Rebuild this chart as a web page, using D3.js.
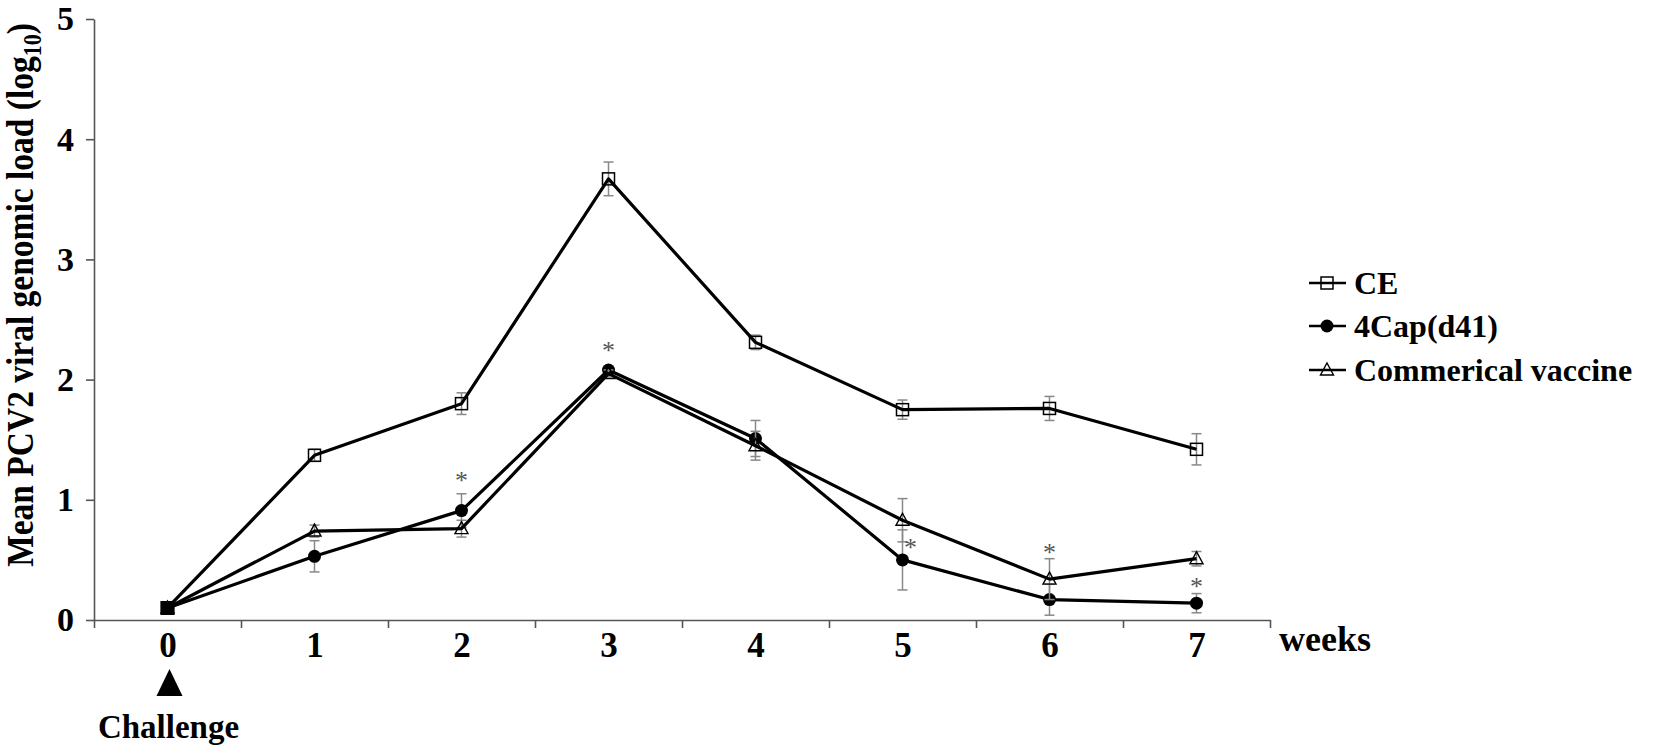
<!DOCTYPE html>
<html>
<head>
<meta charset="utf-8">
<script src="https://d3js.org/d3.v7.min.js"></script>
<style>
body { margin: 0; background: #fff; }
svg { display: block; }
text { font-family: "Liberation Serif", "Times New Roman", serif; font-weight: bold; }
</style>
</head>
<body>
<div id="plot"></div>
<script>

var width = 1653;
var height = 754;

// data (weeks after challenge, log10 load)
var weeks = [0, 1, 2, 3, 4, 5, 6, 7];
var seriesNames = ["CE", "4Cap(d41)", "Commerical vaccine"];
var ceMean = [0.10, 1.37, 1.80, 3.67, 2.31, 1.75, 1.76, 1.42];
var ceErr = [0.02, 0.05, 0.09, 0.14, 0.06, 0.08, 0.10, 0.13];
var capMean = [0.10, 0.53, 0.91, 2.08, 1.51, 0.50, 0.17, 0.14];
var capErr = [0.02, 0.13, 0.14, 0.03, 0.15, 0.25, 0.13, 0.08];
var comMean = [0.10, 0.74, 0.76, 2.05, 1.45, 0.83, 0.34, 0.51];
var comErr = [0.02, 0.05, 0.07, 0.03, 0.12, 0.18, 0.17, 0.06];
var yTicks = [0, 1, 2, 3, 4, 5];
// significance marks: [week, value, x shift in weeks]
var stars = [[2, 1.19, 0], [3, 2.27, 0], [5, 0.63, 0.055], [6, 0.59, 0], [7, 0.31, 0]];

var svg = d3.select("#plot").append("svg")
  .attr("width", width).attr("height", height);

var x = d3.scaleLinear().domain([-0.5, 7.5]).range([94, 1270]);
var y = d3.scaleLinear().domain([0, 5]).range([620, 19]);

// x axis: boundary ticks, then category labels
var xAxis = svg.append("g").attr("transform", "translate(0,620)")
  .call(d3.axisBottom(x).tickValues(d3.range(-0.5, 8, 1)).tickSize(8).tickFormat("").tickSizeOuter(0));
var xLab = svg.append("g").attr("transform", "translate(0,620)")
  .call(d3.axisBottom(x).tickValues(weeks).tickSize(0).tickPadding(12).tickFormat(d3.format("d")));
xLab.select(".domain").remove();
xLab.selectAll("text").style("font-size", "35px").attr("fill", "#000");

var yAxis = svg.append("g").attr("transform", "translate(94,0)")
  .call(d3.axisLeft(y).tickValues(yTicks).tickSize(8).tickPadding(12).tickSizeOuter(0).tickFormat(d3.format("d")));
yAxis.selectAll("text").style("font-size", "34px").attr("fill", "#000");

svg.selectAll(".domain, .tick line").attr("stroke", "#555").attr("stroke-width", 1.6);

svg.append("text").attr("x", 1279).attr("y", 651)
  .style("font-size", "36px").text("weeks");

// challenge marker
var cx = x(0) + 2;
svg.append("path")
  .attr("d", "M" + cx + ",669 L" + (cx + 13) + ",696 L" + (cx - 13) + ",696 Z")
  .attr("fill", "#000");
svg.append("text").attr("x", cx - 1).attr("y", 738).attr("text-anchor", "middle")
  .style("font-size", "33px").text("Challenge");

// y title (glyphs in the figure are a bit tall and narrow)
var yt = svg.append("text")
  .attr("transform", "translate(33,295) rotate(-90) scale(1,1.12)")
  .attr("text-anchor", "middle").style("font-size", "33.5px");
yt.append("tspan").text("Mean PCV2 viral genomic load (log");
yt.append("tspan").attr("dy", 7).style("font-size", "22px").text("10");
yt.append("tspan").attr("dy", -7).text(")");

var series = [
  { name: seriesNames[0], mean: ceMean, err: ceErr, shape: "square" },
  { name: seriesNames[1], mean: capMean, err: capErr, shape: "circle" },
  { name: seriesNames[2], mean: comMean, err: comErr, shape: "triangle" }
];

function drawMarker(g, shape, px, py) {
  if (shape === "square") {
    g.append("rect").attr("x", px - 6).attr("y", py - 6).attr("width", 12).attr("height", 12)
      .attr("fill", "none").attr("stroke", "#000").attr("stroke-width", 1.5);
  } else if (shape === "circle") {
    g.append("circle").attr("cx", px).attr("cy", py).attr("r", 6.5).attr("fill", "#000");
  } else {
    g.append("path").attr("d", "M" + px + "," + (py - 7) + " L" + (px + 6.5) + "," + (py + 5) + " L" + (px - 6.5) + "," + (py + 5) + " Z")
      .attr("fill", "none").attr("stroke", "#000").attr("stroke-width", 1.4);
  }
}

var line = d3.line().x((d, i) => x(weeks[i])).y(d => y(d));

series.forEach(function (s) {
  var g = svg.append("g");
  // error bars
  s.mean.forEach(function (m, i) {
    var e = s.err[i];
    var px = x(weeks[i]);
    g.append("line").attr("x1", px).attr("x2", px).attr("y1", y(m - e)).attr("y2", y(m + e))
      .attr("stroke", "#888").attr("stroke-width", 1.5);
    [m - e, m + e].forEach(function (v) {
      g.append("line").attr("x1", px - 5).attr("x2", px + 5).attr("y1", y(v)).attr("y2", y(v))
        .attr("stroke", "#888").attr("stroke-width", 1.5);
    });
  });
  g.append("path").attr("d", line(s.mean)).attr("fill", "none")
    .attr("stroke", "#000").attr("stroke-width", 3.2).attr("stroke-linejoin", "round");
  s.mean.forEach(function (m, i) { drawMarker(g, s.shape, x(weeks[i]), y(m)); });
});

// the overlapping start point looks like a filled square
svg.append("rect").attr("x", x(0) - 7).attr("y", y(ceMean[0]) - 7).attr("width", 14).attr("height", 14).attr("fill", "#000");

stars.forEach(function (s) {
  svg.append("text").attr("x", x(s[0] + s[2])).attr("y", y(s[1]) + 12)
    .attr("text-anchor", "middle").attr("fill", "#555")
    .style("font-size", "26px").style("font-weight", "normal").text("*");
});

// legend
var legY = [283, 326, 370];
series.forEach(function (s, i) {
  var g = svg.append("g");
  g.append("line").attr("x1", 1309).attr("x2", 1346).attr("y1", legY[i]).attr("y2", legY[i])
    .attr("stroke", "#000").attr("stroke-width", 2.5);
  drawMarker(g, s.shape, 1327, legY[i]);
  g.append("text").attr("x", 1354).attr("y", legY[i] + 11).style("font-size", "32px").text(s.name);
});

</script>
</body>
</html>
